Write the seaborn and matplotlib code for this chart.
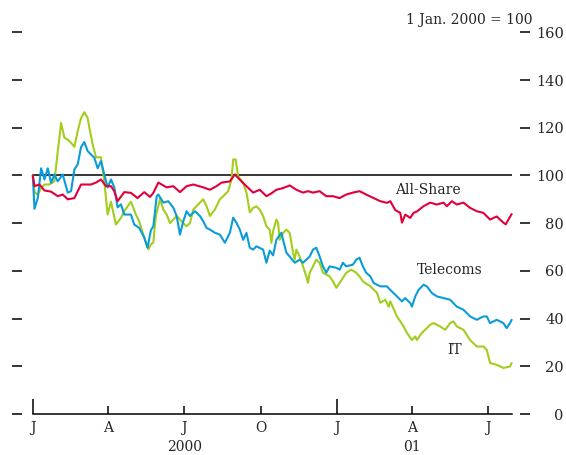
import pandas as pd
import numpy as np
import matplotlib.pyplot as plt
import matplotlib.dates as mdates
import seaborn as sns

start = pd.Timestamp('2000-01-01')

# days after 1 Jan 2000, index values (1 Jan 2000 = 100)
allshare_days = [0, 2, 8, 14, 22, 30, 36, 42, 50, 58, 70, 76, 82, 88, 94, 98, 102, 110, 118, 126,
                 134, 141, 145, 151, 161, 169, 177, 185, 193, 205, 213, 221, 227, 237, 243, 251, 257, 265, 273, 281,
                 287, 293, 301, 309, 317, 325, 331, 337, 345, 353, 361, 369, 377, 385, 393, 401, 410, 418, 426, 430,
                 436, 442, 444, 448, 454, 458, 462, 470, 478, 486, 494, 498, 504, 510, 518, 526, 534, 542, 550, 558,
                 566, 569, 572, 576]
allshare_vals = [100, 95.5, 96.2, 93.7, 93.2, 91.3, 92, 90, 90.5, 96.2, 96.2, 97, 98.3, 95.5, 95.5, 93.4, 89.2, 93, 92.7, 90.5,
                 93, 91, 92.7, 97, 95, 95.5, 93, 95.5, 96.2, 95, 94, 95.5, 97, 97.5, 100.4, 97.5, 95.5, 92.8, 94, 91.3,
                 92.5, 94, 94.7, 95.8, 94, 92.8, 93.4, 92.8, 93.4, 91.3, 91.3, 90.5, 92, 92.8, 93.4, 92, 90.5, 89.2, 88.5, 89.2,
                 85.5, 84.3, 80.2, 83.6, 82.2, 84.3, 84.9, 87.1, 88.6, 87.8, 88.6, 87.1, 89.2, 87.8, 88.6, 86.4, 85, 84.3, 81.5, 82.8,
                 80.2, 79.5, 81.5, 83.8]

telecoms_days = [0, 2, 6, 10, 14, 18, 22, 26, 30, 36, 42, 46, 50, 54, 58, 62, 66, 70, 74, 78,
                 82, 86, 90, 94, 98, 102, 106, 110, 118, 122, 128, 134, 138, 142, 145, 149, 151, 157, 163, 169,
                 173, 177, 181, 185, 189, 195, 201, 205, 209, 213, 219, 225, 231, 237, 241, 245, 249, 253, 257, 261,
                 265, 269, 277, 281, 285, 289, 293, 299, 301, 305, 309, 315, 321, 325, 333, 337, 341, 345, 349, 353,
                 357, 365, 369, 373, 377, 385, 389, 393, 397, 401, 406, 410, 418, 426, 430, 438, 444, 448, 454, 456,
                 460, 464, 470, 474, 480, 486, 494, 502, 510, 518, 526, 534, 542, 546, 550, 558, 566, 570, 574, 576]
telecoms_vals = [100, 86, 90.6, 103, 98.3, 103, 96.9, 100.4, 97.5, 100.4, 92.8, 93.4, 102.5, 104.6, 111.8, 114, 110.2, 108.8, 107.4, 103,
                 106, 100.4, 95, 98.3, 95, 86.6, 87.9, 83.6, 83.6, 79.4, 78, 74, 69.7, 77, 78.7, 91.3, 92, 88.6, 89.2, 86.5,
                 83, 75.2, 80.8, 85, 83, 85, 83, 80.8, 78, 77.3, 76, 75.2, 71.8, 75.9, 82.3, 80.1, 77.3, 73, 75.9, 69.7,
                 68.9, 70.3, 68.9, 63.4, 68.5, 66.5, 73, 76, 73, 67.6, 66, 63.4, 64.7, 63.4, 66, 68.9, 69.7, 66, 61.9, 59.2,
                 61.9, 61.3, 60.5, 63.4, 61.9, 62.6, 64.7, 65.5, 61.9, 59.2, 57.7, 54.9, 53.5, 53.5, 52, 49.3, 47.2, 48.6, 46.5, 45,
                 49.3, 52, 54.2, 53.5, 50.7, 49.3, 48.6, 47.9, 45, 43.7, 40.9, 39.5, 40.9, 40.9, 38.1, 39.5, 38.1, 36, 38.1, 39.5]

it_days = [0, 2, 6, 10, 14, 20, 26, 30, 32, 34, 38, 42, 46, 50, 54, 58, 62, 66, 68, 72,
           76, 82, 86, 90, 94, 100, 106, 110, 118, 124, 128, 134, 139, 142, 145, 148, 153, 157, 161, 165,
           169, 173, 181, 185, 189, 193, 201, 205, 209, 213, 219, 225, 229, 235, 239, 241, 244, 247, 253, 257,
           261, 265, 269, 273, 277, 281, 285, 287, 289, 293, 295, 297, 301, 305, 309, 313, 315, 317, 321, 325,
           329, 331, 333, 337, 341, 345, 349, 357, 361, 365, 369, 377, 383, 389, 393, 397, 406, 414, 418, 424,
           428, 430, 438, 446, 450, 456, 460, 462, 468, 474, 478, 482, 490, 496, 502, 506, 510, 518, 526, 534,
           542, 546, 550, 558, 566, 574, 576]
it_vals = [100, 93, 92, 94.8, 96.2, 96.2, 97.5, 110, 115.8, 122, 115.8, 115, 113.7, 112, 118.6, 124, 126.5, 124, 120, 113,
           107.6, 107.6, 97.5, 83.6, 89, 79.4, 82.2, 85, 89, 83.6, 80.7, 74, 69, 71, 72, 83, 90, 85.7, 83.6, 80,
           81.5, 83, 80, 78.7, 80, 85.7, 88.6, 90, 87.1, 83, 85.7, 90, 91.3, 93.4, 98.3, 106.7, 106.7, 99.7, 96.9, 92.8,
           84.5, 86.4, 87, 85.7, 83, 78.7, 77.3, 71.7, 76.6, 81.5, 80.1, 73, 75.9, 77.3, 75.9, 67.6, 64.7, 68.9, 66, 61.9,
           57.7, 55, 59.1, 61.9, 64.7, 63.3, 59.2, 57.7, 55.6, 52.9, 54.9, 59.2, 60.5, 59.2, 57.7, 55.6, 53.5, 50.8, 46.6, 47.9,
           45, 47.2, 40.9, 36.7, 34, 31, 32.5, 31, 34, 36, 37.4, 38.1, 36.7, 35.3, 38.1, 38.8, 36.7, 35.3, 31, 28.3,
           28.3, 26.9, 21.4, 20.6, 19.3, 19.9, 21.4]

series_names = ['IT', 'Telecoms', 'All-Share']
colors = {'IT': '#a3cd1c', 'Telecoms': '#0a9cd8', 'All-Share': '#e2003c'}

quarter_ticks = ['2000-04-01', '2000-07-01', '2000-10-01', '2001-04-01', '2001-07-01']
quarter_labels = ['A', 'J', 'O', 'A', 'J']
year_ticks = ['2000-01-01', '2001-01-01']
year_labels = ['J', 'J']


def frame(days, vals, name):
    return pd.DataFrame({'date': start + pd.to_timedelta(days, unit='D'),
                         'value': vals, 'series': name})


data = pd.concat([frame(it_days, it_vals, 'IT'),
                  frame(telecoms_days, telecoms_vals, 'Telecoms'),
                  frame(allshare_days, allshare_vals, 'All-Share')], ignore_index=True)

sns.set_style('white')
plt.rcParams['font.family'] = ['DejaVu Serif']
plt.rcParams['font.size'] = 10

fig = plt.figure(figsize=(5.66, 4.55), dpi=100)
ax = fig.add_axes([22 / 566, 41 / 455, 498 / 566, 381.7 / 455])

first = data['date'].min()
last = data['date'].max()

ax.hlines(100, first, last, color='black', linewidth=1.1, zorder=1)
sns.lineplot(data=data, x='date', y='value', hue='series', hue_order=series_names,
             palette=colors, linewidth=1.5, legend=False, estimator=None, sort=False, ax=ax)

ax.set_xlim(start - pd.Timedelta(days=13), start + pd.Timedelta(days=586))
ax.set_ylim(0, 160)
ax.set_xlabel('')
ax.set_ylabel('')

for side in ['left', 'right', 'top']:
    ax.spines[side].set_visible(False)
ax.spines['bottom'].set_bounds(mdates.date2num(first), mdates.date2num(last))
ax.spines['bottom'].set_linewidth(1.1)
ax.spines['bottom'].set_color('black')

ax.set_yticks(range(0, 161, 20))
ax.tick_params(axis='y', which='major', left=True, right=True, labelleft=False, labelright=True,
               direction='out', length=7.5, width=1.1, color='black', pad=24, labelsize=10.5)
for t in ax.yaxis.get_major_ticks():
    t.label2.set_horizontalalignment('right')

ax.set_xticks(mdates.date2num(pd.to_datetime(year_ticks)), year_labels)
ax.set_xticks(mdates.date2num(pd.to_datetime(quarter_ticks)), quarter_labels, minor=True)
ax.tick_params(axis='x', which='major', bottom=True, direction='in', length=11, width=1.1,
               color='black', pad=5, labelsize=10)
ax.tick_params(axis='x', which='minor', bottom=True, direction='in', length=5.8, width=1.1,
               color='black', pad=5, labelsize=10)

trans = ax.get_xaxis_transform()
ax.text(pd.Timestamp('2000-07-01'), -0.087, '2000', transform=trans, ha='center', va='center')
ax.text(pd.Timestamp('2001-04-01'), -0.087, '01', transform=trans, ha='center', va='center')

ax.text(start + pd.Timedelta(days=436), 94, 'All-Share', ha='left', va='center')
ax.text(start + pd.Timedelta(days=462), 60.5, 'Telecoms', ha='left', va='center')
ax.text(start + pd.Timedelta(days=498), 27, 'IT', ha='left', va='center')

fig.text(533 / 566, 1 - 20 / 455, '1 Jan. 2000 = 100', ha='right', va='center')

fig.savefig('out.png', dpi=100)
